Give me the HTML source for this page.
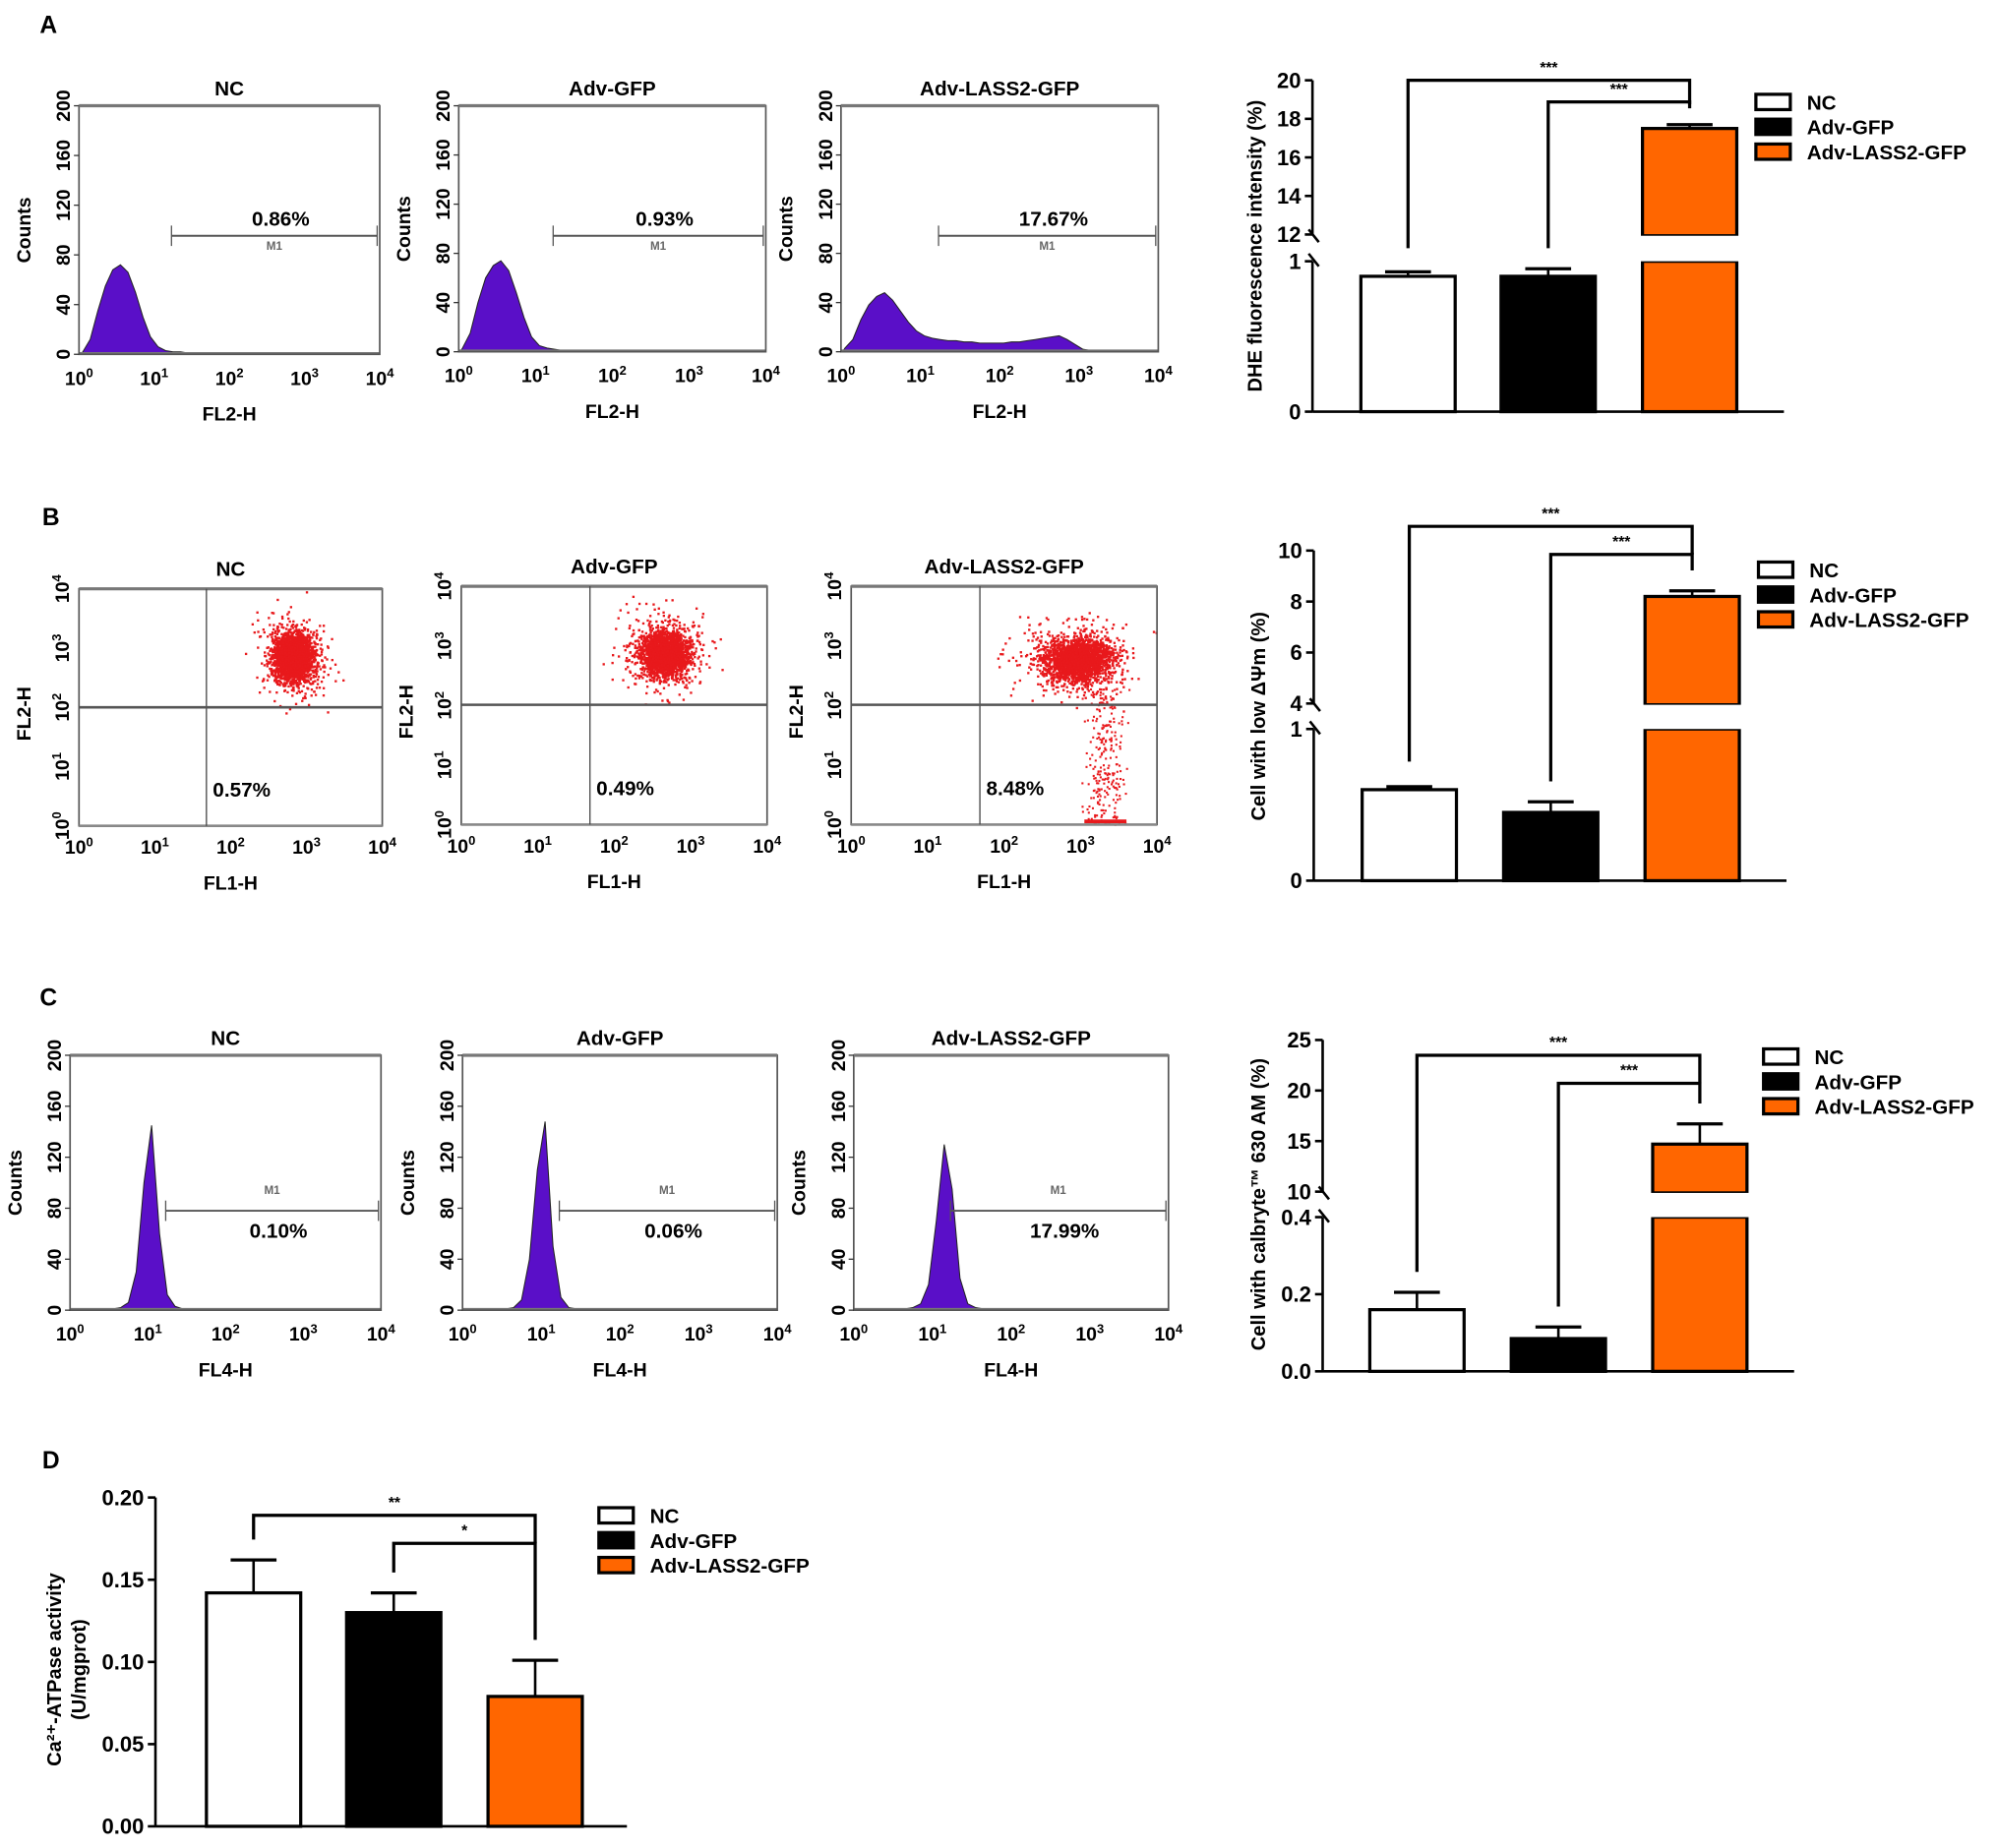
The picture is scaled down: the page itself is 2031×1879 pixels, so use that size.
<!DOCTYPE html>
<html><head><meta charset="utf-8"><style>
html,body{margin:0;padding:0;background:#fff;}
svg{display:block;font-family:"Liberation Sans",Arial,sans-serif;font-weight:bold;}
</style></head>
<body>
<svg id="fig" xmlns="http://www.w3.org/2000/svg" width="2031" height="1879" viewBox="0 0 1568 1450" preserveAspectRatio="none"></svg>
<script>
// ---------- data ----------
const groups = ["NC", "Adv-GFP", "Adv-LASS2-GFP"];
const histAPct = ["0.86%", "0.93%", "17.67%"];
const histCPct = ["0.10%", "0.06%", "17.99%"];
const scatterPct = ["0.57%", "0.49%", "8.48%"];
const histTicks = ["0", "40", "80", "120", "160", "200"];
// histogram counts, bins of 0.1 log10 from 10^0 to 10^4
const histA_NC   = [2,12,35,55,68,72,66,50,30,14,6,3,2,2,1,1,1,1,1,1,1,1,1,1,1,1,1,1,1,0];
const histA_GFP  = [3,15,40,60,70,74,66,48,28,12,5,3,2,1,1,1,1,1,1,1,1,1,1,1,1,1,1,1,0,0];
const histA_LASS = [3,10,26,38,45,48,42,33,24,17,13,11,10,9,9,8,8,7,7,7,7,8,8,9,10,11,12,13,10,6,2,1,0];
const histC_NC   = [1,1,1,1,1,1,2,6,30,100,145,60,12,3,1,1,0];
const histC_GFP  = [1,1,1,1,1,1,2,8,40,110,148,50,10,2,1,0];
const histC_LASS = [1,1,1,1,1,1,1,2,5,20,70,130,95,25,5,2,1,0];
// scatter cloud centers (log10 FL1, log10 FL2) and spreads
const scatterCenterX = [2.82, 2.65, 2.95];
const scatterCenterY = [2.86, 2.89, 2.78];
const scatterSpreadX = [0.17, 0.2, 0.28];
const scatterSpreadY = [0.28, 0.26, 0.25];
const scatterTail = [0, 0, 260];
// bar charts
const barA_mean = [0.9, 0.9, 17.5], barA_err = [0.93, 0.95, 17.7];
const barB_mean = [0.6, 0.45, 8.2], barB_err = [0.62, 0.52, 8.42];
const barC_mean = [0.16, 0.085, 14.7], barC_err = [0.205, 0.115, 16.7];
const barD_mean = [0.142, 0.13, 0.079], barD_err = [0.162, 0.142, 0.101];
const barA_ticksUp = [12,14,16,18,20], barA_ticksLow = [0,1];
const barB_ticksUp = [4,6,8,10], barB_ticksLow = [0,1];
const barC_ticksUp = [10,15,20,25], barC_ticksLow = ["0.0","0.2","0.4"];
const barD_ticks = ["0.00","0.05","0.10","0.15","0.20"];
const fills = ["#ffffff", "#000000", "#ff6600"];

// ---------- helpers ----------
const NS = "http://www.w3.org/2000/svg";
const svg = document.getElementById("fig");
function el(tag, attrs, parent) {
  const e = document.createElementNS(NS, tag);
  for (const k in attrs) e.setAttribute(k, attrs[k]);
  (parent || svg).appendChild(e);
  return e;
}
function txt(x, y, s, size, anchor, rot, parent) {
  const t = el("text", {x: x, y: y, "font-size": size, "text-anchor": anchor || "middle"}, parent);
  if (rot) t.setAttribute("transform", "rotate(" + rot + " " + x + " " + y + ")");
  t.textContent = s;
  return t;
}
function pow10(x, y, exp, parent) {
  const t = el("text", {x: x, y: y, "font-size": 15, "text-anchor": "middle"}, parent);
  t.textContent = "10";
  const sp = el("tspan", {dy: -6, "font-size": 10}, t);
  sp.textContent = exp;
  return t;
}
function line(x1, y1, x2, y2, w, c, parent) {
  return el("line", {x1: x1, y1: y1, x2: x2, y2: y2, stroke: c || "#000", "stroke-width": w || 1}, parent);
}

// panel letters
[["A",38,26],["B",40,412],["C",38,789],["D",40,1152]].forEach(p => {
  const t = txt(p[1], p[2], p[0], 19, "middle");
  
  
});

// ---------- histograms ----------
function histogram(box, title, data, pct, mark, name) {
  const g = el("g", {});
  
  
  const w = box.x1 - box.x0, h = box.y1 - box.y0;
  const xs = v => box.x0 + v / 4 * w;
  const ys = v => box.y1 - v / 200 * h;
  let d = "M" + xs(0.02) + " " + box.y1;
  data.forEach((c, i) => { d += " L" + xs(i * 0.1 + 0.05).toFixed(1) + " " + ys(c).toFixed(1); });
  d += " L" + xs(data.length * 0.1) + " " + box.y1 + " Z";
  const p = el("path", {d: d, fill: "#5a0fc8", stroke: "#222", "stroke-width": 0.8}, g);
  
  
  line(box.x0, box.y1 - 1, box.x1, box.y1 - 1, 1.5, "#777", g);
  el("rect", {x: box.x0, y: box.y0, width: w, height: h, fill: "none", stroke: "#555", "stroke-width": 1.3}, g);
  line(box.x0, box.y0, box.x1, box.y0, 2.5, "#777", g);
  const tt = txt((box.x0 + box.x1) / 2, box.y0 - 8, title, 16, "middle", 0, g);
  
  
  histTicks.forEach((s, i) => {
    const y = ys(i * 40);
    line(box.x0 - 4, y, box.x0, y, 1, "#333", g);
    txt(box.x0 - 7, y, s, 15, "middle", -90, g);
  });
  for (let e = 0; e <= 4; e++) pow10(xs(e), box.y1 + 24, e, g);
  const yl = txt(box.x0 - 38, (box.y0 + box.y1) / 2, "Counts", 15, "middle", -90, g);
  
  
  const xl = txt((box.x0 + box.x1) / 2, box.y1 + 52, mark.xlab, 15, "middle", 0, g);
  
  
  // marker
  const mx0 = xs(1.23), mx1 = box.x1 - 2;
  line(mx0, mark.y, mx1, mark.y, 1.5, "#555", g);
  line(mx0, mark.y - 8, mx0, mark.y + 8, 1, "#555", g);
  line(mx1, mark.y - 8, mx1, mark.y + 8, 1, "#555", g);
  const m1 = txt((mx0 + mx1) / 2, mark.y + mark.m1dy, "M1", 9, "middle", 0, g);
  m1.setAttribute("fill", "#666");
  const pt = txt((mx0 + mx1) / 2 + 5, mark.y + mark.pdy, pct, 16, "middle", 0, g);
  
  
}
const boxesA = [{x0:62,x1:298,y0:83,y1:278},{x0:360,x1:601,y0:83,y1:276},{x0:660,x1:909,y0:83,y1:276}];
const histAData = [histA_NC, histA_GFP, histA_LASS];
boxesA.forEach((b, i) => histogram(b, groups[i], histAData[i], histAPct[i], {y:185, m1dy:11, pdy:-8, xlab:"FL2-H"}, "histogram-a-" + i));
const boxesC = [{x0:55,x1:299,y0:828,y1:1028},{x0:363,x1:610,y0:828,y1:1028},{x0:670,x1:917,y0:828,y1:1028}];
const histCData = [histC_NC, histC_GFP, histC_LASS];
boxesC.forEach((b, i) => histogram(b, groups[i], histCData[i], histCPct[i], {y:950, m1dy:-13, pdy:21, xlab:"FL4-H"}, "histogram-c-" + i));

// ---------- scatter plots ----------
let seed = 12345;
function rnd() { seed = (seed * 1664525 + 1013904223) % 4294967296; return seed / 4294967296; }
function gauss() { return (rnd() + rnd() + rnd() + rnd() - 2) * 1.22; }
const boxesB = [{x0:62,x1:300,y0:462,y1:648,qx:162,qy:555},{x0:362,x1:602,y0:460,y1:647,qx:463,qy:553},{x0:668,x1:908,y0:460,y1:647,qx:769,qy:553}];
boxesB.forEach((box, i) => {
  const g = el("g", {});
  
  
  const w = box.x1 - box.x0, h = box.y1 - box.y0;
  const xs = v => box.x0 + v / 4 * w, ys = v => box.y1 - v / 4 * h;
  for (let k = 0; k < 2400; k++) {
    const vx = scatterCenterX[i] + gauss() * scatterSpreadX[i] * (k < 400 ? 2.0 : 1.1);
    const vy = scatterCenterY[i] + gauss() * scatterSpreadY[i] * (k < 400 ? 1.8 : 1);
    if (vx < 0 || vx > 4 || vy < 0 || vy > 4) continue;
    el("rect", {x: xs(vx).toFixed(1), y: ys(vy).toFixed(1), width: 1.8, height: 1.8, fill: "#e8191c"}, g);
  }
  for (let k = 0; k < scatterTail[i]; k++) {
    const vx = 3.3 + gauss() * 0.17, vy = rnd() * 2.3;
    el("rect", {x: xs(vx).toFixed(1), y: ys(vy).toFixed(1), width: 1.6, height: 1.6, fill: "#e8191c"}, g);
  }
  if (scatterTail[i]) el("rect", {x: xs(3.05), y: box.y1 - 4, width: xs(3.6) - xs(3.05), height: 3, fill: "#e8191c"}, g);
  el("rect", {x: box.x0, y: box.y0, width: w, height: h, fill: "none", stroke: "#555", "stroke-width": 1.3}, g);
  line(box.x0, box.y0, box.x1, box.y0, 2.5, "#777", g);
  line(box.x0, box.y1, box.x1, box.y1, 2, "#888", g);
  line(box.qx, box.y0, box.qx, box.y1, 1, "#444", g);
  line(box.x0, box.qy, box.x1, box.qy, 2, "#555", g);
  const tt = txt((box.x0 + box.x1) / 2, box.y0 - 10, groups[i], 16, "middle", 0, g);
  
  
  for (let e = 0; e <= 4; e++) {
    pow10(box.x0 + e / 4 * w, box.y1 + 22, e, g);
    const yt = pow10(box.x0 - 12, ys(e) + 4, e, g);
    yt.setAttribute("transform", "rotate(-90 " + (box.x0 - 12) + " " + ys(e) + ")");
  }
  const yl = txt(box.x0 - 38, (box.y0 + box.y1) / 2 + 5, "FL2-H", 15, "middle", -90, g);
  
  
  const xl = txt((box.x0 + box.x1) / 2, box.y1 + 50, "FL1-H", 15, "middle", 0, g);
  
  
  const pt = txt(box.qx + 5, box.y1 - 23, scatterPct[i], 16, "start", 0, g);
  
  
});

// ---------- bar charts ----------
function barChart(cfg, means, errs, name) {
  const g = el("g", {});
  
  
  const yOf = v => {
    if (!cfg.brk || v <= cfg.lowMax) return cfg.base - v / cfg.lowMax * (cfg.base - cfg.lowTop);
    return cfg.upBot - (v - cfg.upMin) / (cfg.upMax - cfg.upMin) * (cfg.upBot - cfg.upTop);
  };
  const bw = 74;
  means.forEach((m, i) => {
    const cx = cfg.centers[i], top = yOf(m), et = yOf(errs[i]);
    line(cx, et, cx, top, 2, "#000", g);
    line(cx - 18, et, cx + 18, et, 2.5, "#000", g);
    if (cfg.brk && m > cfg.lowMax) {
      const b1 = el("rect", {x: cx - bw/2, y: cfg.lowTop, width: bw, height: cfg.base - cfg.lowTop, fill: fills[i], stroke: "#000", "stroke-width": 2.5}, g);
      
      
      const b2 = el("rect", {x: cx - bw/2, y: top, width: bw, height: cfg.upBot + 1 - top, fill: fills[i], stroke: "#000", "stroke-width": 2.5}, g);
      
      
      el("rect", {x: cx - bw/2 - 2, y: cfg.upBot + 1, width: bw + 4, height: cfg.lowTop - cfg.upBot - 1, fill: "#fff"}, g);
    } else {
      const b = el("rect", {x: cx - bw/2, y: top, width: bw, height: cfg.base - top, fill: fills[i], stroke: "#000", "stroke-width": 2.5}, g);
      
      
    }
  });
  // axes
  if (cfg.brk) {
    line(cfg.ax, cfg.upTop, cfg.ax, cfg.upBot, 2, "#000", g);
    line(cfg.ax, cfg.lowTop, cfg.ax, cfg.base, 2, "#000", g);
    line(cfg.ax - 3, cfg.upBot - 4, cfg.ax + 5, cfg.upBot + 6, 2, "#000", g);
    line(cfg.ax - 3, cfg.lowTop - 6, cfg.ax + 5, cfg.lowTop + 4, 2, "#000", g);
    cfg.ticksUp.forEach(t => { const y = yOf(+t); line(cfg.ax - 6, y, cfg.ax, y, 2, "#000", g); txt(cfg.ax - 9, y + 6, String(t), 17, "end", 0, g); });
    cfg.ticksLow.forEach(t => { const y = cfg.base - (+t) / cfg.lowMax * (cfg.base - cfg.lowTop); line(cfg.ax - 6, y, cfg.ax, y, 2, "#000", g); txt(cfg.ax - 9, y + 6, String(t), 17, "end", 0, g); });
  } else {
    line(cfg.ax, cfg.lowTop, cfg.ax, cfg.base, 2, "#000", g);
    cfg.ticksLow.forEach(t => { const y = yOf(+t); line(cfg.ax - 6, y, cfg.ax, y, 2, "#000", g); txt(cfg.ax - 9, y + 6, String(t), 17, "end", 0, g); });
  }
  line(cfg.ax, cfg.base, cfg.xEnd, cfg.base, 2, "#000", g);
  // y title
  cfg.title.forEach((s, k) => {
    const yt = txt(cfg.titleX + k * 19, cfg.titleY, s, 15.5, "middle", -90, g);
    
    
  });
  // significance brackets
  const legR = yOf(errs[2]) - 16;
  [[0, cfg.brY[0], cfg.stars[0]], [1, cfg.brY[1], cfg.stars[1]]].forEach(b => {
    const xl = cfg.centers[b[0]], xr = cfg.centers[2];
    const ll = Math.min(yOf(errs[b[0]]) - 16, yOf(means[b[0]]) - 22);
    el("path", {d: "M" + xl + " " + ll + " V" + b[1] + " H" + xr + " V" + (b[0] === 0 ? b[1] + 22 : legR), fill: "none", stroke: "#000", "stroke-width": 2.5}, g);
    const st = txt((xl + xr) / 2, b[1] - 6, b[2], 12, "middle", 0, g);
    
    
  });
  // legend
  groups.forEach((s, i) => {
    const y = cfg.legY + i * 19.5;
    const r = el("rect", {x: cfg.legX, y: y - 6, width: 27, height: 12, fill: fills[i], stroke: "#000", "stroke-width": 2.5}, g);
    
    
    const t = txt(cfg.legX + 40, y + 6, s, 16, "start", 0, g);
    
    
  });
}
barChart({ax:1030, base:323, lowTop:205, lowMax:1, upBot:184, upTop:63, upMin:12, upMax:20, brk:true, xEnd:1400,
  centers:[1105,1215,1326], ticksUp:barA_ticksUp, ticksLow:barA_ticksLow, brY:[63,80], stars:["***","***"],
  title:["DHE fluorescence intensity (%)"], titleX:990, titleY:193, legX:1378, legY:80}, barA_mean, barA_err, "bar-chart-a");
barChart({ax:1031, base:691, lowTop:572, lowMax:1, upBot:552, upTop:432, upMin:4, upMax:10, brk:true, xEnd:1402,
  centers:[1106,1217,1328], ticksUp:barB_ticksUp, ticksLow:barB_ticksLow, brY:[413,435], stars:["***","***"],
  title:["Cell with low \u0394\u03A8m (%)"], titleX:993, titleY:562, legX:1380, legY:447}, barB_mean, barB_err, "bar-chart-b");
barChart({ax:1038, base:1076, lowTop:955, lowMax:0.4, upBot:935, upTop:816, upMin:10, upMax:25, brk:true, xEnd:1408,
  centers:[1112,1223,1334], ticksUp:barC_ticksUp, ticksLow:barC_ticksLow, brY:[828,850], stars:["***","***"],
  title:["Cell with calbryte\u2122 630 AM (%)"], titleX:993, titleY:945, legX:1384, legY:829}, barC_mean, barC_err, "bar-chart-c");
barChart({ax:122, base:1433, lowTop:1175, lowMax:0.2, brk:false, xEnd:492,
  centers:[199,309,420], ticksLow:barD_ticks, brY:[1189,1211], stars:["**","*"],
  title:["Ca\u00B2\u207A-ATPase activity", "(U/mgprot)"], titleX:48, titleY:1310, legX:470, legY:1189}, barD_mean, barD_err, "bar-chart-d");
</script>
</body></html>
